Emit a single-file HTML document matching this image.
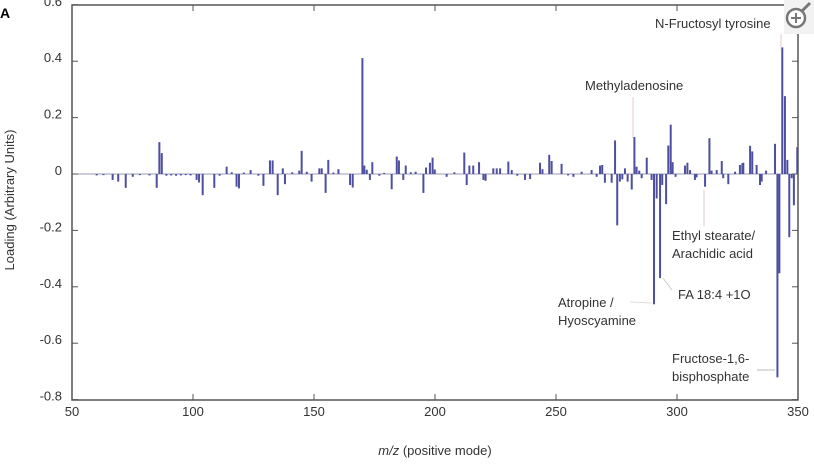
<!DOCTYPE html>
<html><head><meta charset="utf-8"><style>
body{margin:0;background:#fff;width:814px;height:462px;overflow:hidden;font-family:"Liberation Sans",sans-serif}
svg text{font-family:"Liberation Sans",sans-serif;fill:#333}
</style></head><body>
<svg id="chart" width="814" height="462">
<text x="0" y="18" font-size="14" font-weight="bold" style="fill:#000">A</text>
<g id="bars"></g>
<g id="axes"></g>
<g font-size="13">
<text x="655" y="28">N-Fructosyl tyrosine</text>
<line x1="781" y1="34" x2="781" y2="50" stroke="#e8c8c8"/>
<text x="585" y="90">Methyladenosine</text>
<line x1="633" y1="97" x2="633" y2="138" stroke="#e8c8c8"/>
<text x="672" y="240">Ethyl stearate/</text>
<text x="672" y="258">Arachidic acid</text>
<line x1="704" y1="190" x2="704" y2="226" stroke="#e8c8c8"/>
<text x="678" y="299">FA 18:4 +1O</text>
<line x1="663" y1="278" x2="672" y2="290" stroke="#ccc"/>
<text x="558" y="307">Atropine /</text>
<text x="558" y="325">Hyoscyamine</text>
<line x1="630" y1="302" x2="652" y2="303" stroke="#ddd"/>
<text x="672" y="363">Fructose-1,6-</text>
<text x="672" y="381">bisphosphate</text>
<line x1="757" y1="370" x2="775" y2="370" stroke="#bbb"/>
</g>
<text x="14" y="200" font-size="13" text-anchor="middle" transform="rotate(-90 14 200)">Loading (Arbitrary Units)</text>
<text x="435" y="455" font-size="13" text-anchor="middle"><tspan font-style="italic">m/z</tspan> (positive mode)</text>
<g>
<rect x="784" y="0" width="30" height="34" fill="#f2f2f2"/>
<circle cx="796" cy="18" r="9" fill="#fff" stroke="#777" stroke-width="2.5"/>
<line x1="802" y1="11" x2="810" y2="3" stroke="#777" stroke-width="3"/>
<line x1="791" y1="18" x2="801" y2="18" stroke="#777" stroke-width="2"/>
<line x1="796" y1="13" x2="796" y2="23" stroke="#777" stroke-width="2"/>
</g>
</svg>
<script>
const mz=[60.2,63,66.8,69.1,72.2,75.1,78,82,85.0,86.1,87.1,89,91,93,95,97,99,101.5,102.5,104.0,108.8,111,113.9,116,118.0,119.0,121,123.8,127,129.1,131.8,132.9,135.0,137.1,138.0,141,143.9,144.9,147,149.0,152.2,153.2,154.8,155.9,158,160.1,164.9,166.0,170.0,170.8,171.8,173.1,174.1,177,179,182.1,184.2,185.1,186.9,187.9,190,192,195.2,196.3,197.9,199.0,199.9,204.8,208,212.1,213.1,214.2,215.8,218.2,220.0,220.9,224.1,225.5,226.9,230.3,231.7,234,237.2,239.3,243.4,244.4,247.2,248.2,252.3,255,257.2,260.6,264.7,266.8,268.2,269.1,270.2,273.0,274.4,275.3,276.4,277.4,278.5,279.6,281.3,282.4,283.3,284.4,285.4,287.5,289.5,290.5,291.6,293.0,293.9,295.5,296.4,297.4,298.2,299.4,303.3,304.3,305.4,307.4,308.1,311.6,313.4,314.3,316.4,318.5,319.1,321.2,324,326.0,327.0,327.4,330.2,331.1,332.9,334.3,335.0,336.8,340.5,341.5,342.3,343.5,344.6,345.6,346.4,347.4,348.3,349.7];
const loading=[-0.005,-0.004,-0.021,-0.027,-0.049,-0.01,-0.004,-0.005,-0.049,0.113,0.074,-0.006,-0.005,-0.006,-0.005,-0.004,-0.005,-0.021,-0.03,-0.075,-0.049,-0.006,0.026,0.006,-0.045,-0.051,0.005,0.014,-0.006,-0.042,0.048,0.048,-0.075,0.02,-0.036,0.006,0.012,0.082,0.008,-0.027,0.02,0.02,-0.067,0.05,0.005,0.017,-0.039,-0.048,0.411,0.03,0.015,-0.021,0.042,-0.006,0.004,-0.054,0.062,0.048,-0.021,0.03,0.006,0.008,-0.067,0.023,0.04,0.058,0.016,-0.01,0.006,0.076,-0.039,0.03,0.03,0.042,-0.021,-0.024,0.02,0.02,0.02,0.044,0.014,-0.006,-0.021,-0.018,0.04,0.017,0.068,0.046,0.036,-0.005,-0.01,0.008,0.014,-0.01,0.03,0.032,-0.031,-0.031,0.119,-0.182,-0.027,-0.019,0.02,-0.027,-0.055,0.131,0.026,0.012,-0.015,0.058,-0.021,-0.462,-0.087,-0.369,-0.039,-0.107,0.101,0.175,0.042,-0.01,0.03,0.04,0.014,-0.021,-0.012,-0.045,0.127,0.012,0.014,0.046,-0.015,-0.036,0.008,0.032,0.038,0.04,0.1,0.08,0.032,-0.039,-0.027,0.012,0.107,-0.721,-0.352,0.449,0.276,0.05,-0.224,-0.015,-0.111,0.095];
const xTicks=[50,100,150,200,250,300,350];
const yTicks=[0.6,0.4,0.2,0,-0.2,-0.4,-0.6,-0.8];
const yTickLabels=["0.6","0.4","0.2","0","-0.2","-0.4","-0.6","-0.8"];

const L=72,R=798,T=5,B=400,Y0=174,YS=282;
const xs=v=>L+(v-50)*(R-L)/300;
const ys=v=>Y0-v*YS;
const NS="http://www.w3.org/2000/svg";
function mk(t,a,p){const e=document.createElementNS(NS,t);for(const k in a)e.setAttribute(k,a[k]);p.appendChild(e);return e;}
const bars=document.getElementById('bars'),axes=document.getElementById('axes');
mk('line',{x1:L,y1:Y0,x2:R,y2:Y0,stroke:'#9a9ab8','stroke-width':1},bars);
mz.forEach((m,i)=>{
  const v=loading[i],y1=ys(0),y2=ys(v);
  const r=mk('rect',{x:xs(m)-1,y:Math.min(y1,y2),width:2,height:Math.max(0.8,Math.abs(y2-y1)),fill:'#4f4fa0'},bars);
  
  
});
const fr=mk('rect',{x:L,y:T,width:R-L,height:B-T,fill:'none',stroke:'#555','stroke-width':1.5},axes);


xTicks.forEach(t=>{
  const x=xs(t);
  mk('line',{x1:x,y1:B,x2:x,y2:B-6,stroke:'#555'},axes);
  mk('line',{x1:x,y1:T,x2:x,y2:T+6,stroke:'#555'},axes);
  const tx=mk('text',{x:x,y:B+16,'font-size':13,'text-anchor':'middle'},axes);
  tx.textContent=t;
  
  
});
yTicks.forEach((t,i)=>{
  const y=ys(t);
  mk('line',{x1:L,y1:y,x2:L+6,y2:y,stroke:'#555'},axes);
  mk('line',{x1:R,y1:y,x2:R-6,y2:y,stroke:'#555'},axes);
  const tx=mk('text',{x:L-10,y:y+1,'font-size':13,'text-anchor':'end'},axes);
  tx.textContent=yTickLabels[i];
  
  
});
</script>
</body></html>
